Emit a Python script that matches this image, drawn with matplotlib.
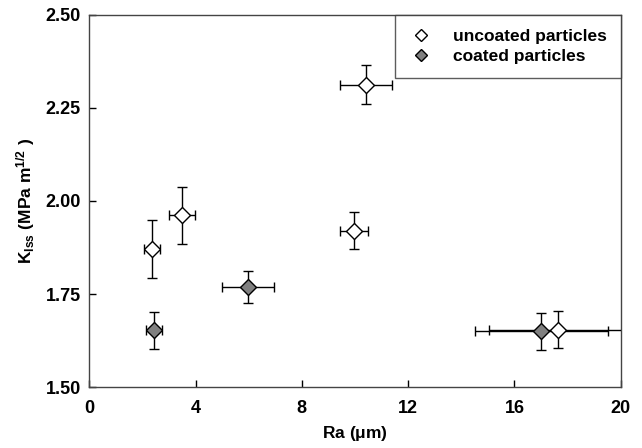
import matplotlib.pyplot as plt

plt.rcParams['font.family'] = ['Liberation Sans', 'DejaVu Sans']
plt.rcParams['mathtext.fontset'] = 'custom'
plt.rcParams['mathtext.rm'] = 'Liberation Sans:bold'
plt.rcParams['mathtext.it'] = 'Liberation Sans:bold'
plt.rcParams['mathtext.bf'] = 'Liberation Sans:bold'

# uncoated particles
ra_unc = [2.37, 3.5, 10.4, 9.95, 17.63]
ra_unc_err = [0.31, 0.49, 0.98, 0.53, 2.6]
k_unc = [1.871, 1.961, 2.312, 1.920, 1.654]
k_unc_err = [0.077, 0.077, 0.052, 0.050, 0.050]

# coated particles
ra_coat = [2.44, 5.99, 17.0]
ra_coat_err = [0.3, 0.98, 2.5]
k_coat = [1.652, 1.770, 1.650]
k_coat_err = [0.050, 0.043, 0.050]

xticks = [0, 4, 8, 12, 16, 20]
yticks = [1.50, 1.75, 2.00, 2.25, 2.50]

fig = plt.figure(figsize=(6.42, 4.48), dpi=100)
ax = fig.add_axes([0.139, 0.136, 0.828, 0.831])

ax.errorbar(ra_unc, k_unc, xerr=ra_unc_err, yerr=k_unc_err, fmt='D',
            mfc='white', mec='black', mew=1.0, ms=8.5, ecolor='black',
            elinewidth=1.0, capsize=3.5, capthick=1.0, label='uncoated particles',
            zorder=3)
ax.errorbar(ra_coat, k_coat, xerr=ra_coat_err, yerr=k_coat_err, fmt='D',
            mfc='#808080', mec='black', mew=1.0, ms=8.5, ecolor='black',
            elinewidth=1.0, capsize=3.5, capthick=1.0, label='coated particles',
            zorder=3)

ax.set_xlim(0, 20)
ax.set_ylim(1.5, 2.5)
ax.set_xticks(xticks)
ax.set_xticklabels([str(v) for v in xticks])
ax.set_yticks(yticks)
ax.set_yticklabels(['%.2f' % v for v in yticks])
ax.tick_params(direction='in', length=5, width=1, labelsize=13)
ax.tick_params(axis='x', pad=9)
ax.tick_params(axis='y', pad=6)
for lab in ax.get_xticklabels() + ax.get_yticklabels():
    lab.set_fontweight('bold')
for s in ax.spines.values():
    s.set_color('#444444')
    s.set_linewidth(1.0)

ax.set_xlabel('Ra ($\\mu$m)', fontsize=12.5, fontweight='bold', labelpad=5)
ax.set_ylabel('K$_{lss}$ (MPa m$^{1/2}$ )', fontsize=12.5, fontweight='bold', labelpad=6)

h, l = ax.get_legend_handles_labels()
h = [x[0] for x in h]
leg = ax.legend(h, l, loc='upper right', frameon=True, fancybox=False,
                edgecolor='#333333', borderpad=0.8, handlelength=1.4,
                handletextpad=1.15, labelspacing=0.3, borderaxespad=0,
                markerscale=0.7, prop={'weight': 'bold', 'size': 12.5})
leg.get_frame().set_linewidth(1.0)

fig.savefig('out.png', dpi=100)
